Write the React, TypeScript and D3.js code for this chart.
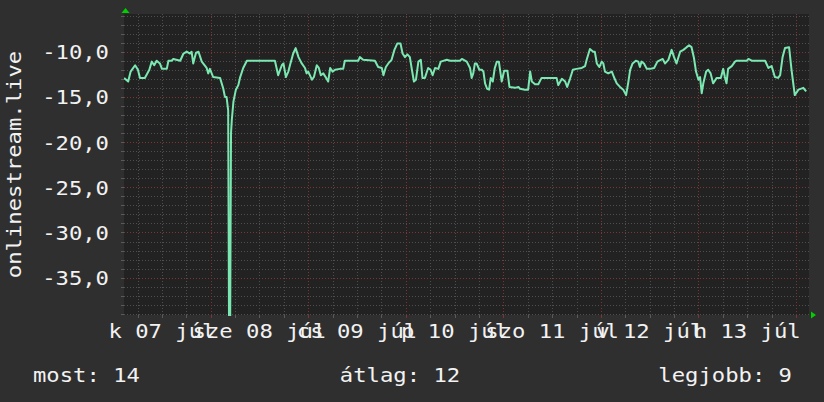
import React from "react";
import * as d3 from "d3";

// hours since 07 júl 00:00 (UTC) and the plotted value
const hours = [
  2.7, 3.7, 4.3, 5.4, 6.1, 6.6, 7.8, 8.9, 9.5, 10.1, 10.7, 11.5, 12.0, 13.2, 13.6, 14.4, 14.8, 16.5,
  17.3, 18.1, 18.9, 19.3, 19.7, 20.4, 21.0, 21.8, 23.0, 23.4, 23.8, 24.6, 26.3, 27.1, 27.5, 27.9,
  28.3, 28.5, 28.8, 29.0, 29.2, 29.6, 30.2, 30.8, 31.2, 32.0, 32.9, 39.8, 40.6, 41.5, 41.9, 42.5,
  43.1, 43.5, 44.3, 44.9, 45.6, 46.4, 47.2, 47.6, 48.0, 48.9, 49.4, 50.1, 50.6, 51.1, 51.7, 52.4,
  52.9, 53.4, 54.0, 54.6, 55.8, 56.6, 57.0, 60.3, 60.7, 61.5, 64.4, 65.2, 66.1, 66.5, 67.1, 67.7,
  68.5, 69.2, 69.9, 70.7, 71.2, 71.8, 72.4, 73.0, 73.5, 74.0, 74.5, 75.1, 75.7, 76.1, 76.7, 77.5,
  78.1, 78.6, 79.2, 80.0, 80.6, 82.1, 82.9, 85.3, 85.8, 87.0, 87.8, 88.2, 88.6, 89.0, 89.4, 90.1,
  90.7, 91.1, 91.5, 92.0, 92.5, 92.9, 93.4, 93.9, 94.4, 94.9, 95.6, 96.2, 97.0, 97.5, 98.9, 99.7,
  100.1, 101.3, 102.1, 102.6, 103.0, 103.8, 104.6, 105.4, 109.1, 109.5, 110.4, 111.2, 111.7, 112.4,
  113.1, 114.0, 115.3, 116.1, 116.5, 117.3, 118.1, 118.5, 119.0, 119.6, 120.2, 120.6, 121.0, 121.8,
  122.7, 123.2, 123.9, 124.7, 125.5, 126.2, 126.7, 127.2, 127.8, 128.6, 129.2, 129.6, 130.0, 130.6,
  131.3, 132.1, 133.1, 133.9, 134.7, 135.2, 135.8, 136.6, 137.4, 138.0, 138.6, 139.5, 140.3, 141.1,
  141.7, 142.3, 142.9, 143.4, 144.0, 144.4, 144.8, 145.2, 145.9, 146.4, 147.0, 147.6, 148.5, 149.5,
  150.1, 150.5, 150.9, 151.3, 152.2, 153.0, 153.4, 155.9, 156.3, 157.1, 160.4, 161.2, 162.0, 162.8,
  163.6, 164.1, 164.7, 165.3, 166.3, 166.9, 167.7, 168.6, 169.8, 170.5,
];
const values = [
  -12.9, -13.3, -12.2, -11.5, -12.0, -12.9, -12.9, -12.0, -11.1, -11.5, -11.0, -11.3, -11.9, -11.9, -11.0, -11.0, -10.8, -11.0,
  -10.2, -10.0, -10.2, -10.0, -11.3, -10.1, -10.0, -11.1, -11.8, -12.4, -11.9, -12.8, -12.9, -14.1, -15.0, -15.0,
  -16.5, -39.2, -39.2, -19.0, -17.5, -15.5, -14.2, -13.7, -12.9, -11.8, -11.0, -11.0, -12.6, -11.5, -11.3, -12.8,
  -12.2, -11.5, -10.2, -9.6, -10.6, -11.3, -11.8, -12.4, -12.2, -13.1, -12.8, -11.5, -11.8, -12.6, -12.4, -12.9,
  -13.3, -11.8, -12.2, -12.0, -11.9, -11.9, -11.0, -11.0, -10.6, -10.9, -11.0, -11.7, -11.8, -12.6, -11.7, -11.3,
  -10.9, -9.8, -9.1, -9.1, -10.2, -10.6, -10.3, -10.6, -12.0, -13.3, -13.1, -11.1, -10.9, -12.9, -12.9, -11.8,
  -12.0, -12.6, -11.8, -11.9, -11.1, -10.9, -11.0, -11.0, -10.8, -11.1, -11.8, -12.9, -12.4, -11.3, -11.3, -12.0,
  -12.0, -12.2, -13.5, -14.1, -14.2, -12.9, -13.3, -11.8, -11.1, -11.1, -13.3, -12.1, -12.1, -13.9, -14.0, -13.9,
  -14.1, -14.2, -14.2, -12.2, -13.3, -13.6, -13.6, -12.9, -12.9, -13.7, -13.0, -13.3, -13.9, -13.0,
  -12.0, -11.9, -11.8, -11.6, -10.9, -9.7, -10.0, -10.0, -11.3, -11.7, -11.1, -11.3, -12.2, -12.4,
  -12.2, -12.8, -13.5, -13.9, -14.2, -14.8, -13.5, -12.0, -11.3, -11.0, -11.1, -11.7, -11.1, -11.3,
  -11.9, -11.9, -11.8, -11.1, -10.9, -10.8, -11.3, -10.9, -9.8, -10.6, -11.3, -10.0, -9.8, -9.5,
  -9.3, -9.5, -10.7, -12.2, -13.1, -12.8, -14.6, -13.5, -12.2, -12.0, -12.4, -13.5, -12.9, -12.9,
  -11.9, -12.8, -13.5, -11.9, -11.6, -11.1, -11.0, -11.0, -10.8, -11.0, -11.0, -11.8, -11.6, -12.8,
  -12.9, -12.6, -10.6, -9.6, -9.5, -12.0, -14.8, -14.2, -14.0, -14.4,
];

const dayLabels = ["k 07 júl", "sze 08 júl", "cs 09 júl", "p 10 júl", "szo 11 júl", "v 12 júl", "h 13 júl"];
const yTicks = [-10, -15, -20, -25, -30, -35];
const legendItems = [
  { label: "most", value: 14 },
  { label: "átlag", value: 12 },
  { label: "legjobb", value: 9 },
];
const seriesName = "onlinestream.live";

const W = 824;
const H = 402;
const plot = { left: 124, right: 809, top: 14, bottom: 315 };
const t0 = Date.UTC(2020, 6, 7);
const toDate = (h: number) => new Date(t0 + h * 3600e3);

const font = "'DejaVu Sans Mono', monospace";
const fontSize = 19;
const stretch = 1.17;

const fmt = d3
  .formatLocale({ decimal: ",", thousands: " ", grouping: [3], currency: ["", ""], minus: "-" })
  .format(".1f");

export default function App() {
  const x = d3.scaleUtc().domain([toDate(2.67), toDate(171.2)]).range([plot.left, plot.right]);
  const y = d3.scaleLinear().domain([-39.13, -5.83]).range([plot.bottom, plot.top]);

  const data: [number, number][] = hours.map((h, i) => [h, values[i]]);
  const line = d3
    .line<[number, number]>()
    .x((d) => x(toDate(d[0])))
    .y((d) => y(d[1]));

  // grid positions
  const vTicks = x.ticks(d3.utcHour.every(6)!);
  const hTicks = d3.range(-39, -5);

  const label = (
    key: string,
    tx: number,
    ty: number,
    text: string,
    anchor: string,
    rotate = 0
  ) => (
    <g key={key} transform={`translate(${tx},${ty}) rotate(${rotate}) scale(${stretch},1)`}>
      <text textAnchor={anchor} fill="#f2f2f2" fontFamily={font} fontSize={fontSize}>
        {text}
      </text>
    </g>
  );

  return (
    <svg width={W} height={H} style={{ position: "absolute", left: 0, top: 0 }}>
      <defs>
        <clipPath id="plotclip">
          <rect x={plot.left} y={plot.top} width={plot.right - plot.left} height={plot.bottom - plot.top + 1} />
        </clipPath>
      </defs>
      <rect width={W} height={H} fill="#2f2f2f" />
      <rect
        x={plot.left}
        y={plot.top}
        width={plot.right - plot.left}
        height={plot.bottom - plot.top}
        fill="#222222"
      />

      {/* horizontal grid */}
      {hTicks.map((v) => {
        const major = v % 5 === 0;
        const yy = Math.round(y(v)) + 0.5;
        return (
          <g key={`h${v}`}>
            <line
              x1={plot.left}
              x2={plot.right}
              y1={yy}
              y2={yy}
              stroke={major ? "#7a3636" : "#4e4e4e"}
              strokeDasharray="1,2"
            />
            <line x1={plot.left - 3} x2={plot.left} y1={yy} y2={yy} stroke="#5a5a5a" />
          </g>
        );
      })}

      {/* vertical grid */}
      {vTicks.map((t) => {
        const major = t.getUTCHours() === 0;
        const xx = Math.round(x(t)) + 0.5;
        return (
          <g key={`v${+t}`}>
            <line
              x1={xx}
              x2={xx}
              y1={plot.top}
              y2={plot.bottom}
              stroke={major ? "#7a3636" : "#4e4e4e"}
              strokeDasharray="1,2"
            />
            <line x1={xx} x2={xx} y1={plot.bottom} y2={plot.bottom + 3} stroke={major ? "#7a3636" : "#5a5a5a"} />
          </g>
        );
      })}

      {/* series */}
      <path
        d={line(data) ?? ""}
        fill="none"
        stroke="#7be8b2"
        strokeWidth={2}
        strokeLinejoin="round"
        clipPath="url(#plotclip)"
      />

      {/* axis arrows */}
      <path d={`M${plot.left - 2.5},13 L${plot.left + 1.5},8 L${plot.left + 5.5},13 Z`} fill="#00d000" />
      <path d={`M${plot.right + 2},${plot.bottom - 3.5} L${plot.right + 7},${plot.bottom} L${plot.right + 2},${plot.bottom + 3.5} Z`} fill="#00d000" />

      {/* y labels */}
      {yTicks.map((v) => label(`yl${v}`, 109, y(v) + 7.5, fmt(v), "end"))}

      {/* x labels at midday */}
      {dayLabels.map((d, i) => label(`xl${i}`, x(toDate(12 + 24 * i)), 338, d, "middle"))}

      {/* series title */}
      {label("title", 20.5, (plot.top + plot.bottom) / 2, seriesName, "middle", -90)}

      {/* legend */}
      {label("lg0", 33, 382, `${legendItems[0].label}: ${legendItems[0].value}`, "start")}
      {label("lg1", 400, 382, `${legendItems[1].label}: ${legendItems[1].value}`, "middle")}
      {label("lg2", 792, 382, `${legendItems[2].label}: ${legendItems[2].value}`, "end")}
    </svg>
  );
}
